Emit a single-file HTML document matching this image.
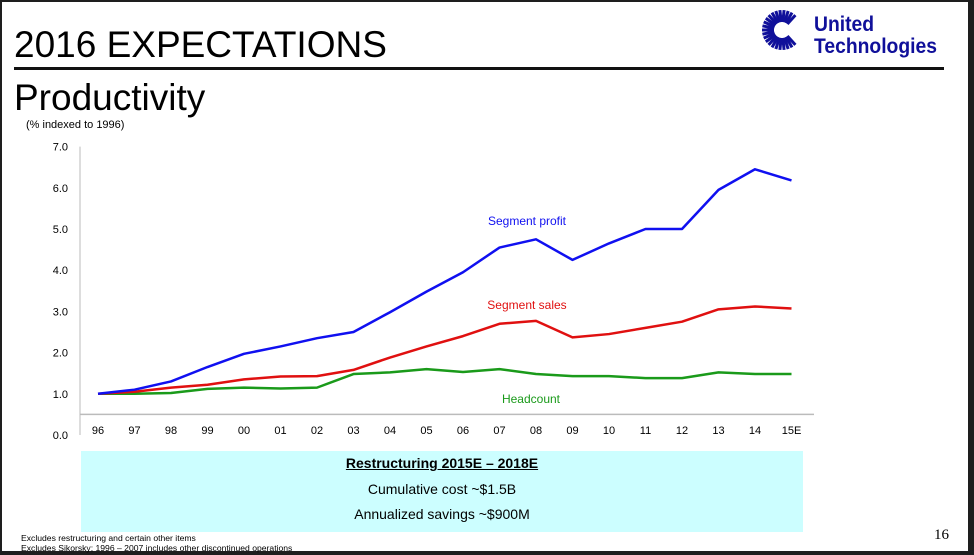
<!DOCTYPE html>
<html><head><meta charset="utf-8"><style>
html,body{margin:0;padding:0}
body{width:974px;height:555px;position:relative;overflow:hidden;background:#1e1e1e;font-family:"Liberation Sans",sans-serif}
#slide{position:absolute;left:2px;top:2px;width:966px;height:549px;background:#fff}
.t{position:absolute;white-space:nowrap}
</style></head><body>
<div id="slide"></div>
<div class="t" style="left:14px;top:24px;font-size:37px">2016 EXPECTATIONS</div>
<div style="position:absolute;left:14px;top:67px;width:930px;height:3px;background:#111"></div>
<div class="t" style="left:14px;top:77px;font-size:37px">Productivity</div>
<div class="t" style="left:26px;top:119px;font-size:11px">(% indexed to 1996)</div>
<svg style="position:absolute;left:760px;top:8px" width="200" height="50">
<g id="rays"></g>
<g transform="translate(54,0) scale(0.92,1)">
<text x="0" y="23" font-family="Liberation Sans" font-weight="bold" font-size="21" fill="#10109a">United</text>
<text x="0" y="45" font-family="Liberation Sans" font-weight="bold" font-size="21" fill="#10109a">Technologies</text>
</g>
</svg>
<svg id="chart" style="position:absolute;left:0;top:0" width="974" height="555"></svg>
<div style="position:absolute;left:81px;top:451px;width:722px;height:81px;background:#ccfeff;text-align:center;font-size:14px">
<div style="margin-top:4px;font-weight:bold;text-decoration:underline">Restructuring 2015E – 2018E</div>
<div style="margin-top:10px">Cumulative cost ~$1.5B</div>
<div style="margin-top:9px">Annualized savings ~$900M</div>
</div>
<div class="t" style="left:21px;top:533px;font-size:8.6px">Excludes restructuring and certain other items</div>
<div class="t" style="left:21px;top:543px;font-size:8.6px">Excludes Sikorsky; 1996 – 2007 includes other discontinued operations</div>
<div class="t" style="left:934px;top:527px;font-size:15px;font-family:'Liberation Serif',serif">16</div>
<script>
const categories=["96","97","98","99","00","01","02","03","04","05","06","07","08","09","10","11","12","13","14","15E"];
const segmentProfit=[1.0,1.1,1.3,1.65,1.97,2.15,2.35,2.5,2.98,3.48,3.95,4.55,4.75,4.25,4.65,5.0,5.0,5.95,6.45,6.18];
const segmentSales=[1.0,1.05,1.15,1.22,1.35,1.42,1.43,1.58,1.88,2.15,2.4,2.7,2.77,2.37,2.45,2.6,2.75,3.05,3.12,3.07];
const headcount=[1.0,1.0,1.02,1.12,1.15,1.13,1.15,1.48,1.52,1.6,1.53,1.6,1.48,1.43,1.43,1.38,1.38,1.52,1.48,1.48];
const yTicks=["0.0","1.0","2.0","3.0","4.0","5.0","6.0","7.0"];
const NS="http://www.w3.org/2000/svg";
const svg=document.getElementById('chart');
const x0=98,dx=36.5,yZero=435,yUnit=41.2;
const X=i=>x0+i*dx, Y=v=>yZero-v*yUnit;
function mk(t,a,p){const e=document.createElementNS(NS,t);for(const k in a)e.setAttribute(k,a[k]);(p||svg).appendChild(e);return e;}
let e=mk('line',{x1:80,y1:Y(7),x2:80,y2:Y(0),stroke:'#bbb','stroke-width':1});


e=mk('line',{x1:80,y1:Y(0.5),x2:814,y2:Y(0.5),stroke:'#bbb','stroke-width':1.5});


yTicks.forEach(t=>{const el=mk('text',{x:68,y:Y(parseFloat(t))+4,'text-anchor':'end','font-size':11,'font-family':'Liberation Sans'});el.textContent=t;

});
categories.forEach((c,i)=>{const el=mk('text',{x:X(i),y:434,'text-anchor':'middle','font-size':11,'font-family':'Liberation Sans'});el.textContent=c;

});
function series(data,color,name){const el=mk('polyline',{points:data.map((v,i)=>X(i)+','+Y(v)).join(' '),fill:'none',stroke:color,'stroke-width':2.5,'stroke-linejoin':'round'});

}
series(headcount,'#1a9a1a','headcount-line');
series(segmentSales,'#e01010','segment-sales-line');
series(segmentProfit,'#1010f0','segment-profit-line');
[["Segment profit",527,225,'#1010f0','segment-profit-label'],["Segment sales",527,309,'#e01010','segment-sales-label'],["Headcount",531,403,'#1a9a1a','headcount-label']].forEach(a=>{
const el=mk('text',{x:a[1],y:a[2],'text-anchor':'middle','font-size':12,'font-family':'Liberation Sans',fill:a[3]});el.textContent=a[0];

});
const rays=document.getElementById('rays');
for(let k=0;k<30;k++){const a=k/30*2*Math.PI;if(Math.cos(a)>0.8)continue;
mk('line',{x1:22+8*Math.cos(a),y1:22+8*Math.sin(a),x2:22+20*Math.cos(a),y2:22+20*Math.sin(a),stroke:'#10109a','stroke-width':3},rays);}
</script>
</body></html>
